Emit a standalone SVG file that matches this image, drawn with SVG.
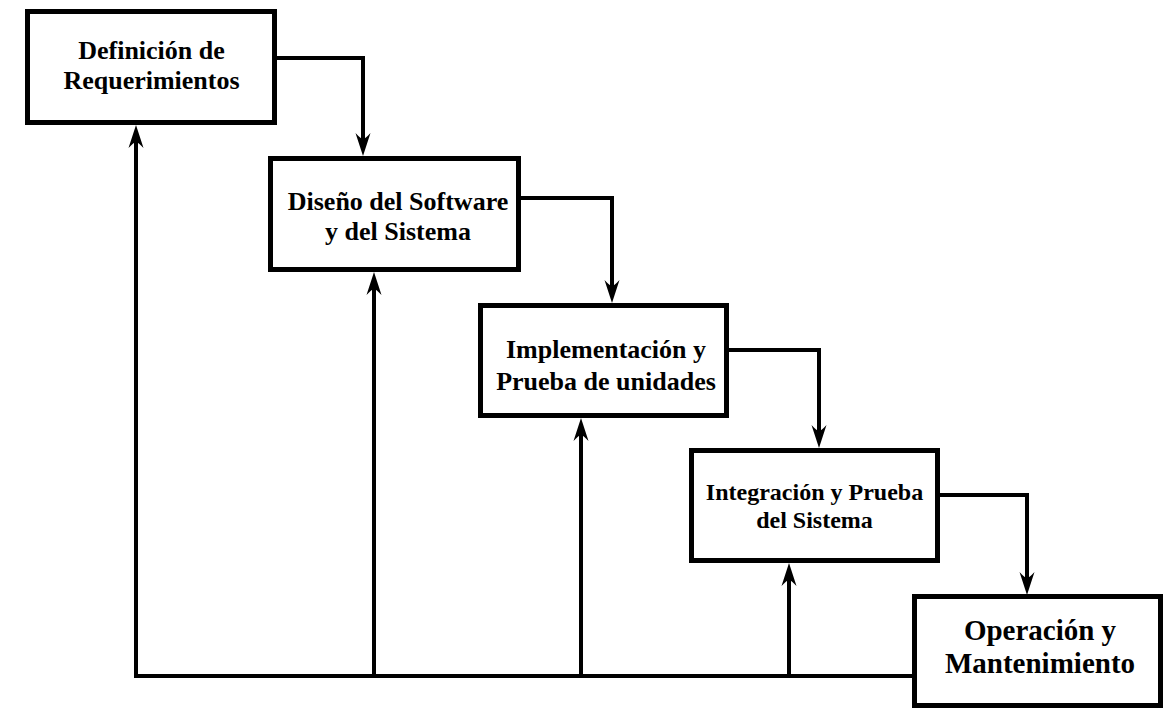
<svg xmlns="http://www.w3.org/2000/svg" width="1163" height="708" viewBox="0 0 1163 708">
<style>
.box{fill:#fff;stroke:#000;stroke-width:5}
.t{font-family:"Liberation Serif","Times New Roman",serif;font-weight:bold;fill:#000;text-anchor:middle}
.c{fill:none;stroke:#000;stroke-width:4}
</style>
<defs>
<marker id="ah" markerUnits="userSpaceOnUse" viewBox="-10 -10 26 20" markerWidth="26" markerHeight="20" refX="0" refY="0" orient="auto" overflow="visible">
<path d="M14,0 L-9,-7.5 Q-3,-2 -3,0 Q-3,2 -9,7.5 Z" fill="#000"/>
</marker>
</defs>
<rect width="1163" height="708" fill="#fff"/>
<g id="connectors">
<path class="c" d="M277,58 H363 V142" marker-end="url(#ah)"/>
<path class="c" d="M521,198 H612 V289" marker-end="url(#ah)"/>
<path class="c" d="M729,350 H819 V434" marker-end="url(#ah)"/>
<path class="c" d="M940,495 H1027 V581" marker-end="url(#ah)"/>
<path class="c" d="M134,676 H914"/>
<path class="c" d="M136,678 V139" marker-end="url(#ah)"/>
<path class="c" d="M374,676 V286" marker-end="url(#ah)"/>
<path class="c" d="M581,676 V432" marker-end="url(#ah)"/>
<path class="c" d="M789,676 V577" marker-end="url(#ah)"/>
</g>
<g id="node1">
<rect class="box" x="27.5" y="11.5" width="247" height="111"/>
<text class="t" font-size="26" x="151.5" y="59">Definición de</text>
<text class="t" font-size="26" x="151.5" y="89">Requerimientos</text>
</g>
<g id="node2">
<rect class="box" x="270.5" y="158.5" width="248" height="111"/>
<text class="t" font-size="26" x="398" y="210">Diseño del Software</text>
<text class="t" font-size="26" x="398" y="240">y del Sistema</text>
</g>
<g id="node3">
<rect class="box" x="480.5" y="305.5" width="246" height="110"/>
<text class="t" font-size="26" x="606" y="358">Implementación y</text>
<text class="t" font-size="26" x="606" y="390">Prueba de unidades</text>
</g>
<g id="node4">
<rect class="box" x="691.5" y="450.5" width="246" height="110"/>
<text class="t" font-size="24" x="814.5" y="500">Integración y Prueba</text>
<text class="t" font-size="24" x="814.5" y="528">del Sistema</text>
</g>
<g id="node5">
<rect class="box" x="914.5" y="596.5" width="246" height="109"/>
<text class="t" font-size="29" x="1040" y="640">Operación y</text>
<text class="t" font-size="29" x="1040" y="673">Mantenimiento</text>
</g>
</svg>
